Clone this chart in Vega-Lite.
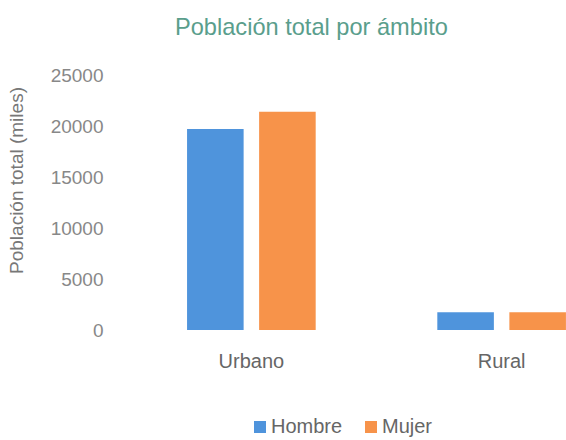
{
  "$schema": "https://vega.github.io/schema/vega-lite/v6.json",
  "autosize": "none",
  "padding": {"left": 130, "top": 75, "right": 0, "bottom": 110},
  "width": 493,
  "height": 255,
  "background": "white",
  "title": {
    "text": "Población total por ámbito",
    "anchor": "start",
    "dx": 168,
    "offset": 26,
    "fontSize": 23.6,
    "fontWeight": "normal",
    "font": "Liberation Sans, sans-serif",
    "color": "#5a9e8c"
  },
  "data": {
    "values": [
      {"ambito": "Urbano", "sexo": "Hombre", "poblacion": 19700},
      {"ambito": "Urbano", "sexo": "Mujer", "poblacion": 21400},
      {"ambito": "Rural", "sexo": "Hombre", "poblacion": 1750},
      {"ambito": "Rural", "sexo": "Mujer", "poblacion": 1750}
    ]
  },
  "mark": {"type": "bar"},
  "encoding": {
    "x": {
      "field": "ambito",
      "type": "nominal",
      "sort": ["Urbano", "Rural"],
      "scale": {"paddingInner": 0.486, "paddingOuter": 0.228},
      "axis": {
        "title": null,
        "labelAngle": 0,
        "domain": false,
        "ticks": false,
        "labelPadding": 21,
        "labelFontSize": 20,
        "labelFont": "Liberation Sans, sans-serif",
        "labelColor": "#666"
      }
    },
    "xOffset": {
      "field": "sexo",
      "type": "nominal",
      "scale": {"paddingInner": 0.215, "paddingOuter": 0}
    },
    "y": {
      "field": "poblacion",
      "type": "quantitative",
      "scale": {"domain": [0, 25000]},
      "axis": {
        "title": "Población total (miles)",
        "titleFontSize": 19,
        "titleFontWeight": "normal",
        "titleFont": "Liberation Sans, sans-serif",
        "titleColor": "#777",
        "titleY": 105,
        "titleX": -104,
        "values": [0, 5000, 10000, 15000, 20000, 25000],
        "format": "d",
        "grid": false,
        "domain": false,
        "ticks": false,
        "labelPadding": 27,
        "labelFontSize": 19,
        "labelFont": "Liberation Sans, sans-serif",
        "labelColor": "#888"
      }
    },
    "color": {
      "field": "sexo",
      "type": "nominal",
      "scale": {"domain": ["Hombre", "Mujer"], "range": ["#4f94dc", "#f7934a"]},
      "legend": {
        "title": null,
        "orient": "none",
        "direction": "horizontal",
        "legendX": 120,
        "legendY": 342,
        "symbolType": "square",
        "symbolSize": 144,
        "symbolStrokeWidth": 0,
        "labelOffset": 1,
        "labelFontSize": 20,
        "labelFont": "Liberation Sans, sans-serif",
        "labelColor": "#666",
        "columnPadding": 18
      }
    }
  },
  "config": {"view": {"stroke": null}}
}
